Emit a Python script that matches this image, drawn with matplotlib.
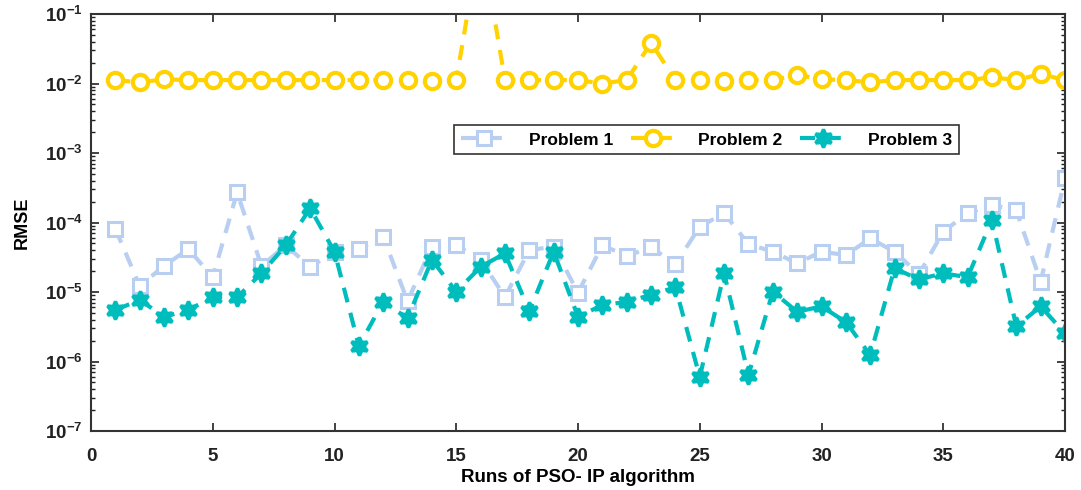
import matplotlib.pyplot as plt
import numpy as np

plt.rcParams['font.family'] = ['Liberation Sans', 'DejaVu Sans']
plt.rcParams['font.weight'] = 'bold'

runs = np.arange(1, 41)

# RMSE per run for each test problem
rmse_p1 = [8.1e-5, 1.22e-5, 2.37e-5, 4.16e-5, 1.63e-5, 2.72e-4, 2.37e-5, 4.7e-5, 2.3e-5, 3.8e-5,
           4.2e-5, 6.25e-5, 7.4e-6, 4.5e-5, 4.7e-5, 2.9e-5, 8.5e-6, 4.0e-5, 4.5e-5, 9.8e-6,
           4.7e-5, 3.3e-5, 4.4e-5, 2.5e-5, 8.7e-5, 1.36e-4, 4.9e-5, 3.8e-5, 2.58e-5, 3.8e-5,
           3.4e-5, 5.9e-5, 3.8e-5, 1.8e-5, 7.4e-5, 1.36e-4, 1.79e-4, 1.5e-4, 1.41e-5, 4.3e-4]
rmse_p2 = [0.0112, 0.0104, 0.0115, 0.0112, 0.0112, 0.0112, 0.0112, 0.0112, 0.0112, 0.0112,
           0.0112, 0.0112, 0.0112, 0.0110, 0.0112, 1.3, 0.0112, 0.0112, 0.0112, 0.0112,
           0.0100, 0.0112, 0.0385, 0.0112, 0.0112, 0.0108, 0.0112, 0.0112, 0.0133, 0.0115,
           0.0112, 0.0104, 0.0112, 0.0112, 0.0112, 0.0112, 0.0123, 0.0112, 0.0137, 0.0112]
rmse_p3 = [5.5e-6, 7.7e-6, 4.4e-6, 5.5e-6, 8.5e-6, 8.4e-6, 1.86e-5, 4.7e-5, 1.6e-4, 3.8e-5,
           1.67e-6, 7.2e-6, 4.2e-6, 2.9e-5, 1.01e-5, 2.3e-5, 3.6e-5, 5.3e-6, 3.8e-5, 4.4e-6,
           6.5e-6, 7.2e-6, 9.1e-6, 1.17e-5, 6.0e-7, 1.86e-5, 6.4e-7, 1.01e-5, 5.2e-6, 6.2e-6,
           3.7e-6, 1.24e-6, 2.19e-5, 1.52e-5, 1.86e-5, 1.63e-5, 1.09e-4, 3.2e-6, 6.2e-6, 2.55e-6]

fig = plt.figure(figsize=(10.81, 4.9), dpi=100)
ax = fig.add_axes([0.0842, 0.1204, 0.901, 0.851])

dash = (0, (3.6, 2.6))
ax.plot(runs, rmse_p1, color='#b8cff2', linestyle=dash, linewidth=3,
        marker='s', markersize=10, markerfacecolor='white', markeredgewidth=2.2,
        label='Problem 1')
ax.plot(runs, rmse_p2, color='#ffd200', linestyle=dash, linewidth=3,
        marker='o', markersize=11, markerfacecolor='white', markeredgewidth=3,
        label='Problem 2')
ax.plot(runs, rmse_p3, color='#00bdbd', linestyle=dash, linewidth=3,
        marker=(6, 1, 0), markersize=13, markeredgewidth=2.5,
        label='Problem 3')

ax.set_yscale('log')
ax.set_ylim(1e-7, 1e-1)
ax.set_xlim(0, 40)
ax.set_xticks(range(0, 41, 5))
ax.set_yticks([1e-7, 1e-6, 1e-5, 1e-4, 1e-3, 1e-2, 1e-1])

ax.tick_params(axis='both', which='both', direction='in', top=True, right=True,
               labelsize=13.5, colors='#222222')
ax.tick_params(axis='x', pad=12)
ax.tick_params(axis='y', pad=6)
ax.tick_params(which='major', length=6, width=1.2)
ax.tick_params(which='minor', length=3, width=1)
for s in ax.spines.values():
    s.set_linewidth(1.5)
    s.set_color('#333333')

ax.set_xlabel('Runs of PSO- IP algorithm', fontsize=13.5, fontweight='bold', labelpad=3)
ax.set_ylabel('RMSE', fontsize=13, fontweight='bold', labelpad=10)

leg = ax.legend(loc='center', bbox_to_anchor=(0.632, 0.698), ncol=3, fontsize=12.5,
                frameon=True, fancybox=False, edgecolor='#333333', handlelength=2.6,
                columnspacing=1.0, handletextpad=1.3, borderpad=0.4)
leg.get_frame().set_linewidth(1.2)
leg.get_frame().set_alpha(1)

fig.savefig('out.png', dpi=100)
